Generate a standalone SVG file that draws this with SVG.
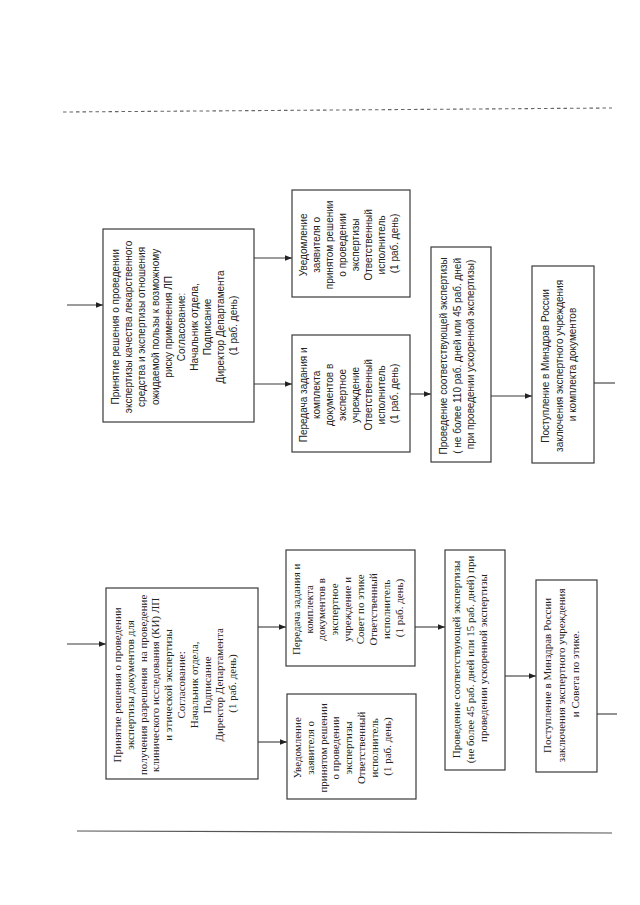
<svg xmlns="http://www.w3.org/2000/svg" width="640" height="905" viewBox="0 0 640 905">
<style>
.bx{fill:#fff;stroke:#3a3a3a;stroke-width:1.2}
.ln{fill:none;stroke:#3a3a3a;stroke-width:1.1}
.ts{font-family:"Liberation Sans",Arial,sans-serif;font-size:10px;fill:#222;text-anchor:middle}
.tr{font-family:"Liberation Serif","Times New Roman",serif;font-size:11px;fill:#222;text-anchor:middle}
</style>
<defs>
<marker id="ah" viewBox="0 0 8 8" refX="8" refY="4" markerWidth="7" markerHeight="7" markerUnits="userSpaceOnUse" orient="auto">
<path d="M0,0.8 L8,4 L0,7.2 Z" fill="#222"/>
</marker>
</defs>
<rect width="640" height="905" fill="#fff"/>
<g id="page-lines">
<line x1="63" y1="112" x2="612" y2="108" stroke="#666" stroke-width="1.1" stroke-dasharray="3.5 3"/>
<line x1="77" y1="831" x2="612" y2="833" stroke="#555" stroke-width="1.2"/>
</g>
<g id="connectors">
<line class="ln" x1="67" y1="305" x2="103" y2="305" marker-end="url(#ah)"/>
<line class="ln" x1="254" y1="258" x2="292" y2="258" marker-end="url(#ah)"/>
<line class="ln" x1="254" y1="384" x2="292" y2="384" marker-end="url(#ah)"/>
<line class="ln" x1="410" y1="394" x2="431" y2="394" marker-end="url(#ah)"/>
<line class="ln" x1="491" y1="396" x2="532" y2="396" marker-end="url(#ah)"/>
<line class="ln" x1="594" y1="383" x2="615" y2="383"/>
<line class="ln" x1="67" y1="644" x2="106" y2="644" marker-end="url(#ah)"/>
<line class="ln" x1="258" y1="627" x2="286" y2="627" marker-end="url(#ah)"/>
<line class="ln" x1="258" y1="742" x2="287" y2="742" marker-end="url(#ah)"/>
<line class="ln" x1="415" y1="627" x2="445" y2="627" marker-end="url(#ah)"/>
<line class="ln" x1="505" y1="676" x2="536" y2="676" marker-end="url(#ah)"/>
<line class="ln" x1="597" y1="714" x2="617" y2="714"/>
</g>
<g id="top-decision">
<rect class="bx" x="103" y="229" width="151" height="193"/>
<text class="ts" transform="rotate(-90)">
<tspan x="-325.5" y="119">Принятие решения о проведении</tspan>
<tspan x="-325.5" y="132">экспертизы качества лекарственного</tspan>
<tspan x="-325.5" y="145">средства и экспертизы отношения</tspan>
<tspan x="-325.5" y="158.5">ожидаемой пользы к возможному</tspan>
<tspan x="-325.5" y="171.5">риску применения ЛП</tspan>
<tspan x="-325.5" y="184.5">Согласование:</tspan>
<tspan x="-325.5" y="197.5">Начальник отдела,</tspan>
<tspan x="-325.5" y="210.5">Подписание</tspan>
<tspan x="-325.5" y="223.5">Директор Департамента</tspan>
<tspan x="-325.5" y="237">(1 раб. день)</tspan>
</text>
</g>
<g id="top-notify">
<rect class="bx" x="292" y="190" width="118" height="107"/>
<text class="ts" transform="rotate(-90)">
<tspan x="-243.5" y="306.5">Уведомление</tspan>
<tspan x="-243.5" y="319.5">заявителя о</tspan>
<tspan x="-243.5" y="332.5">принятом решении</tspan>
<tspan x="-243.5" y="345.5">о проведении</tspan>
<tspan x="-243.5" y="358.5">экспертизы</tspan>
<tspan x="-243.5" y="371.5">Ответственный</tspan>
<tspan x="-243.5" y="384.5">исполнитель</tspan>
<tspan x="-243.5" y="397.5">(1 раб. день)</tspan>
</text>
</g>
<g id="top-transfer">
<rect class="bx" x="292" y="335" width="118" height="117"/>
<text class="ts" transform="rotate(-90)">
<tspan x="-393.5" y="306.5">Передача задания и</tspan>
<tspan x="-393.5" y="319.5">комплекта</tspan>
<tspan x="-393.5" y="332.5">документов в</tspan>
<tspan x="-393.5" y="345.5">экспертное</tspan>
<tspan x="-393.5" y="358.5">учреждение</tspan>
<tspan x="-393.5" y="371.5">Ответственный</tspan>
<tspan x="-393.5" y="384.5">исполнитель</tspan>
<tspan x="-393.5" y="397.5">(1 раб. день)</tspan>
</text>
</g>
<g id="top-expertise">
<rect class="bx" x="431" y="247" width="60" height="215"/>
<text class="ts" transform="rotate(-90)">
<tspan x="-354.5" y="447">Проведение соответствующей экспертизы</tspan>
<tspan x="-354.5" y="460.5">( не более 110 раб. дней или 45 раб. дней</tspan>
<tspan x="-354.5" y="474">при проведении ускоренной экспертизы)</tspan>
</text>
</g>
<g id="top-receipt">
<rect class="bx" x="532" y="266" width="62" height="197"/>
<text class="ts" transform="rotate(-90)">
<tspan x="-364.5" y="549">Поступление в Минздрав России</tspan>
<tspan x="-364.5" y="562.5">заключения экспертного учреждения</tspan>
<tspan x="-364.5" y="576">и комплекта документов</tspan>
</text>
</g>
<g id="bottom-decision">
<rect class="bx" x="106" y="588" width="152" height="191"/>
<text class="tr" transform="rotate(-90)">
<tspan x="-683.5" y="121">Принятие решения о проведении</tspan>
<tspan x="-683.5" y="133.8">экспертизы документов для</tspan>
<tspan x="-683.5" y="146.6">получения разрешения&#160; на проведение</tspan>
<tspan x="-683.5" y="159.4">клинического исследования (КИ) ЛП</tspan>
<tspan x="-683.5" y="172.2">и этической экспертизы</tspan>
<tspan x="-683.5" y="185">Согласование:</tspan>
<tspan x="-683.5" y="197.8">Начальник отдела,</tspan>
<tspan x="-683.5" y="210.6">Подписание</tspan>
<tspan x="-683.5" y="223.4">Директор Департамента</tspan>
<tspan x="-683.5" y="236.2">(1 раб. день)</tspan>
</text>
</g>
<g id="bottom-transfer">
<rect class="bx" x="286" y="550" width="129" height="116"/>
<text class="tr" transform="rotate(-90)">
<tspan x="-608" y="299.6">Передача задания и</tspan>
<tspan x="-608" y="312.5">комплекта</tspan>
<tspan x="-608" y="325.4">документов в</tspan>
<tspan x="-608" y="338.3">экспертное</tspan>
<tspan x="-608" y="351.2">учреждение и</tspan>
<tspan x="-608" y="364.1">Совет по этике</tspan>
<tspan x="-608" y="377">Ответственный</tspan>
<tspan x="-608" y="389.9">исполнитель</tspan>
<tspan x="-608" y="402.8">(1 раб. день)</tspan>
</text>
</g>
<g id="bottom-notify">
<rect class="bx" x="287" y="694" width="129" height="105"/>
<text class="tr" transform="rotate(-90)">
<tspan x="-746.5" y="301">Уведомление</tspan>
<tspan x="-746.5" y="313.8">заявителя о</tspan>
<tspan x="-746.5" y="326.6">принятом решении</tspan>
<tspan x="-746.5" y="339.4">о проведении</tspan>
<tspan x="-746.5" y="352.2">экспертизы</tspan>
<tspan x="-746.5" y="365">Ответственный</tspan>
<tspan x="-746.5" y="377.8">исполнитель</tspan>
<tspan x="-746.5" y="390.6">(1 раб. день)</tspan>
</text>
</g>
<g id="bottom-expertise">
<rect class="bx" x="445" y="550" width="60" height="220"/>
<text class="tr" transform="rotate(-90)">
<tspan x="-658" y="460">Проведение соответствующей экспертизы</tspan>
<tspan x="-658" y="473.5">(не более 45 раб. дней или 15 раб. дней) при</tspan>
<tspan x="-658" y="487">проведении ускоренной экспертизы</tspan>
</text>
</g>
<g id="bottom-receipt">
<rect class="bx" x="536" y="580" width="61" height="192"/>
<text class="tr" transform="rotate(-90)">
<tspan x="-674" y="551">Поступление в Минздрав России</tspan>
<tspan x="-674" y="565">заключения экспертного учреждения</tspan>
<tspan x="-674" y="579">и Совета по этике.</tspan>
</text>
</g>
</svg>
